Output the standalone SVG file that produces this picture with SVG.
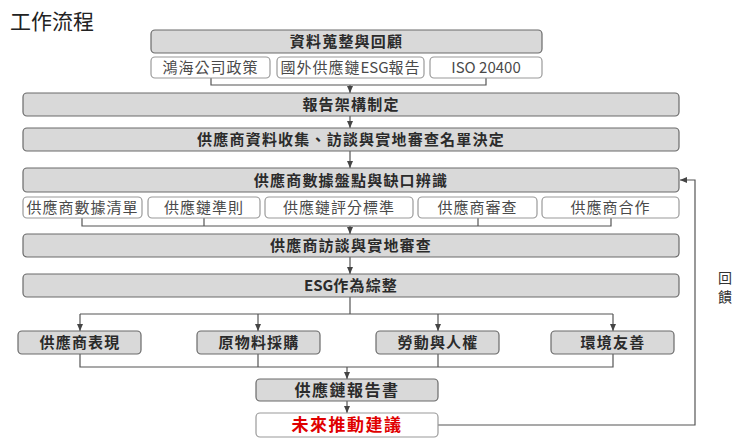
<svg xmlns="http://www.w3.org/2000/svg" width="740" height="439" viewBox="0 0 740 439">
<style>
.g{fill:#d9d9d9;stroke:#6a6a6a;stroke-width:1.2}
.w{fill:#fff;stroke:#9a9a9a;stroke-width:1.2}
.bt{font-family:"Noto Sans CJK TC","Noto Sans",sans-serif;font-size:15px;font-weight:bold;fill:#2b2b2b;text-anchor:middle;letter-spacing:1.2px}
.lt{font-size:16px;letter-spacing:1.5px}
.st{font-family:"Noto Sans CJK TC","Noto Sans",sans-serif;font-size:15px;fill:#4a4a4a;text-anchor:middle;letter-spacing:1px}
.c{fill:none;stroke:#555;stroke-width:1.2}
.ns{letter-spacing:0}
</style>
<defs>
<marker id="a" markerUnits="userSpaceOnUse" markerWidth="8" markerHeight="8" refX="7" refY="3" orient="auto"><path d="M0,0 L7,3 L0,6 z" fill="#444"/></marker>
</defs>
<rect width="740" height="439" fill="#fff"/>
<text x="10" y="29" font-family="'Noto Sans CJK TC',sans-serif" font-size="21" fill="#222">工作流程</text>
<g id="connectors">
<path class="c" d="M211 78 V85 H486 V78"/>
<path class="c" d="M350 85 V93" marker-end="url(#a)"/>
<path class="c" d="M350 116 V128" marker-end="url(#a)"/>
<path class="c" d="M350 151 V168" marker-end="url(#a)"/>
<path class="c" d="M82 218 V226 H611 V218 M204 218 V226 M478 218 V226"/>
<path class="c" d="M350 226 V234" marker-end="url(#a)"/>
<path class="c" d="M350 257 V274" marker-end="url(#a)"/>
<path class="c" d="M350 297 V314 M80 314 H613"/>
<path class="c" d="M80 314 V331" marker-end="url(#a)"/>
<path class="c" d="M258 314 V331" marker-end="url(#a)"/>
<path class="c" d="M438 314 V331" marker-end="url(#a)"/>
<path class="c" d="M613 314 V331" marker-end="url(#a)"/>
<path class="c" d="M80 354 V367 H613 V354 M258 354 V367 M438 354 V367"/>
<path class="c" d="M347 367 V379" marker-end="url(#a)"/>
<path class="c" d="M347 401 V413" marker-end="url(#a)"/>
<path class="c" d="M438 425 H695 V180 H680" marker-end="url(#a)"/>
</g>
<g id="n1"><rect class="g" x="151" y="30" width="391" height="23" rx="4"/><text class="bt" x="346.5" y="47">資料蒐整與回顧</text></g>
<g id="n1a"><rect class="w" x="151" y="57" width="119" height="21" rx="4"/><text class="st" x="210.5" y="72.5">鴻海公司政策</text></g>
<g id="n1b"><rect class="w" x="277" y="57" width="147" height="21" rx="4"/><text class="st" x="350.5" y="72.5">國外供應鏈<tspan class="ns">ESG</tspan>報告</text></g>
<g id="n1c"><rect class="w" x="430" y="57" width="112" height="21" rx="4"/><text class="st ns" x="486" y="72.5">ISO 20400</text></g>
<g id="n2"><rect class="g" x="23" y="93" width="656" height="23" rx="4"/><text class="bt" x="351" y="110">報告架構制定</text></g>
<g id="n3"><rect class="g" x="23" y="128" width="656" height="23" rx="4"/><text class="bt" x="351" y="145">供應商資料收集、訪談與實地審查名單決定</text></g>
<g id="n4"><rect class="g" x="23" y="168" width="656" height="24" rx="4"/><text class="bt" x="351" y="185.5">供應商數據盤點與缺口辨識</text></g>
<g id="n4a"><rect class="w" x="23" y="197" width="119" height="21" rx="4"/><text class="st" x="82.5" y="212.5">供應商數據清單</text></g>
<g id="n4b"><rect class="w" x="148" y="197" width="112" height="21" rx="4"/><text class="st" x="204" y="212.5">供應鏈準則</text></g>
<g id="n4c"><rect class="w" x="265" y="197" width="148" height="21" rx="4"/><text class="st" x="339" y="212.5">供應鏈評分標準</text></g>
<g id="n4d"><rect class="w" x="418" y="197" width="119" height="21" rx="4"/><text class="st" x="477.5" y="212.5">供應商審查</text></g>
<g id="n4e"><rect class="w" x="542" y="197" width="137" height="21" rx="4"/><text class="st" x="610.5" y="212.5">供應商合作</text></g>
<g id="n5"><rect class="g" x="23" y="234" width="656" height="23" rx="4"/><text class="bt" x="351" y="251">供應商訪談與實地審查</text></g>
<g id="n6"><rect class="g" x="23" y="274" width="656" height="23" rx="4"/><text class="bt" x="351" y="291"><tspan class="ns">ESG</tspan>作為綜整</text></g>
<g id="r1"><rect class="g" x="18" y="331" width="123" height="23" rx="4"/><text class="bt" x="80" y="348">供應商表現</text></g>
<g id="r2"><rect class="g" x="197" y="331" width="123" height="23" rx="4"/><text class="bt" x="259" y="348">原物料採購</text></g>
<g id="r3"><rect class="g" x="376" y="331" width="123" height="23" rx="4"/><text class="bt" x="438" y="348">勞動與人權</text></g>
<g id="r4"><rect class="g" x="551" y="331" width="123" height="23" rx="4"/><text class="bt" x="613" y="348">環境友善</text></g>
<g id="n7"><rect class="g" x="256" y="379" width="182" height="22" rx="4"/><text class="bt lt" x="347" y="396">供應鏈報告書</text></g>
<g id="n8"><rect class="w" x="256" y="413" width="182" height="24" rx="4"/><text class="bt lt" x="347" y="431" style="fill:#e00000;font-size:17px">未來推動建議</text></g>
<g id="feedback-label" font-family="'Noto Sans CJK TC',sans-serif" font-size="14" fill="#333" text-anchor="middle"><text x="725" y="283">回</text><text x="725" y="302">饋</text></g>
</svg>
